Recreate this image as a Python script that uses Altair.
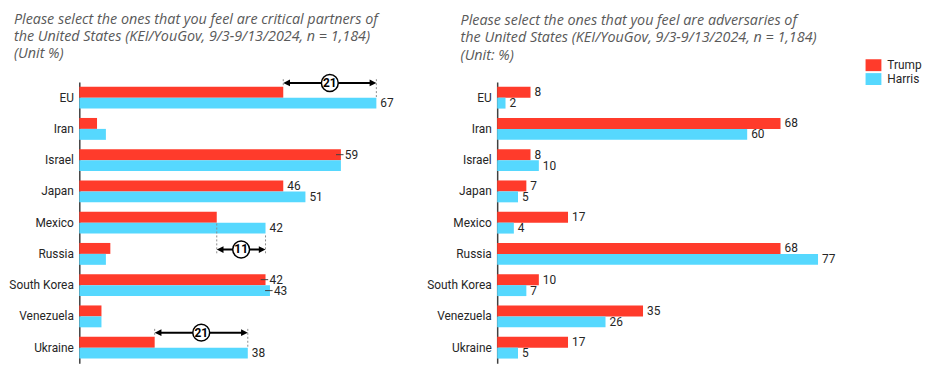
import altair as alt
import pandas as pd

countries = ["EU", "Iran", "Israel", "Japan", "Mexico", "Russia",
             "South Korea", "Venezuela", "Ukraine"]
series = ["Trump", "Harris"]

# Critical partners (%)
partner_trump = [46, 4, 59, 46, 31, 7, 42, 5, 17]
partner_harris = [67, 6, 59, 51, 42, 6, 43, 5, 38]
partner_label_trump = [False, False, True, True, False, False, True, False, False]
partner_label_harris = [True, False, False, True, True, False, True, False, True]
partner_leader_trump = [False, False, True, False, False, False, True, False, False]
partner_leader_harris = [False, False, False, False, False, False, True, False, False]

# Adversaries (%)
adv_trump = [8, 68, 8, 7, 17, 68, 10, 35, 17]
adv_harris = [2, 60, 10, 5, 4, 77, 7, 26, 5]

# Gap annotations (Harris - Trump) on the partners chart
gap_countries = ["EU", "Mexico", "Ukraine"]
gap_arrow_row = [0.03, 5.36, 8.02]   # arrow height, in category rows from the top

title_left = ["Please select the ones that you feel are critical partners of",
              "the United States (KEI/YouGov, 9/3-9/13/2024,  n = 1,184)",
              "(Unit %)"]
title_right = ["Please select the ones that you feel are adversaries of",
               "the United States (KEI/YouGov, 9/3-9/13/2024,  n = 1,184)",
               "(Unit: %)"]

RED = "#FF3B2B"
CYAN = "#56D8FE"
FONT = "Roboto"
TFONT = "Open Sans"
TXT = "#262626"


def long_df(trump, harris, lab_t, lab_h, lead_t, lead_h):
    rows = []
    for i, c in enumerate(countries):
        rows.append(dict(country=c, series="Trump", value=trump[i], label=lab_t[i], lead=lead_t[i]))
        rows.append(dict(country=c, series="Harris", value=harris[i], label=lab_h[i], lead=lead_h[i]))
    return pd.DataFrame(rows)


df_p = long_df(partner_trump, partner_harris, partner_label_trump,
               partner_label_harris, partner_leader_trump, partner_leader_harris)
n = len(countries)
df_a = long_df(adv_trump, adv_harris, [True] * n, [True] * n, [False] * n, [False] * n)

legend = alt.Legend(title=None, orient="none", legendX=794, legendY=-25,
                    symbolType="M-1,-0.75H1V0.75H-1Z", symbolSize=256,
                    symbolStrokeWidth=0, labelFontSize=12, labelColor=TXT,
                    labelFont=FONT, rowPadding=0, labelOffset=6)
color = alt.Color("series:N", scale=alt.Scale(domain=series, range=[RED, CYAN]),
                  legend=legend)
yoff = alt.YOffset("series:N", scale=alt.Scale(domain=series))

y_axis = alt.Axis(title=None, ticks=False, grid=False, domainColor="#404040",
                  domainWidth=1.5, labelPadding=6, labelFontSize=12,
                  labelColor=TXT, labelFont=FONT)


def y_nom():
    return alt.Y("country:N", sort=countries,
                 scale=alt.Scale(domain=countries, paddingInner=0.3, paddingOuter=0.15),
                 axis=y_axis)


def panel(df, xmax):
    xs = alt.Scale(domain=[0, xmax], nice=False, zero=True)
    base = alt.Chart(df)
    bars = base.mark_bar().encode(
        x=alt.X("value:Q", scale=xs, axis=None),
        y=y_nom(), yOffset=yoff, color=color)
    labels = base.transform_filter("datum.label").mark_text(
        align="left", baseline="middle", dx=4, fontSize=12, color=TXT, font=FONT
    ).encode(x=alt.X("value:Q", scale=xs, axis=None), y=y_nom(), yOffset=yoff,
             text="value:Q")
    leaders = base.transform_filter("datum.lead").transform_calculate(
        lo="datum.value - 1.1", hi="datum.value + 0.6"
    ).mark_rule(color="#404040", strokeWidth=1).encode(
        x=alt.X("lo:Q", scale=xs, axis=None), x2="hi:Q", y=y_nom(), yOffset=yoff)
    return [bars, leaders, labels], xs


def make_title(lines, dx, offset):
    return alt.TitleParams(text=lines, anchor="start", frame="group", dx=dx,
                           fontStyle="italic", fontWeight="normal", fontSize=14.5,
                           color="#595959", font=TFONT, lineHeight=17.5, offset=offset)


# ---- annotation data for the gap arrows ----
arrow_rows, dot_rows = [], []
for c, ay in zip(gap_countries, gap_arrow_row):
    i = countries.index(c)
    t = partner_trump[i]
    h = partner_harris[i]
    above = ay < i + 0.5
    start = ay - 0.12 if above else ay + 0.12
    t_edge = i + 0.15 if above else i + 0.5
    h_edge = i + 0.5 if above else i + 0.85
    arrow_rows.append(dict(lo=t, hi=h, mid=(t + h) / 2, ay=ay, diff=h - t))
    dot_rows.append(dict(x=t, y1=start, y2=t_edge))
    dot_rows.append(dict(x=h, y1=start, y2=h_edge))
df_arrow = pd.DataFrame(arrow_rows)
df_dot = pd.DataFrame(dot_rows)

p_layers, xs_p = panel(df_p, 67)
yq = alt.Scale(domain=[0, n], reverse=True, nice=False, zero=False)

dots = alt.Chart(df_dot).mark_rule(color="#8c8c8c", strokeDash=[2, 2], strokeWidth=1).encode(
    x=alt.X("x:Q", scale=xs_p, axis=None),
    y=alt.Y("y1:Q", scale=yq, axis=None), y2="y2:Q")
arrow_line = alt.Chart(df_arrow).transform_calculate(
    a="datum.lo + 1", b="datum.hi - 1"
).mark_rule(color="black", strokeWidth=2).encode(
    x=alt.X("a:Q", scale=xs_p, axis=None), x2="b:Q",
    y=alt.Y("ay:Q", scale=yq, axis=None))
head_l = alt.Chart(df_arrow).mark_point(
    shape="M0,0L1.7,-0.85L1.7,0.85Z", size=64, filled=True, color="black", opacity=1
).encode(x=alt.X("lo:Q", scale=xs_p, axis=None), y=alt.Y("ay:Q", scale=yq, axis=None))
head_r = alt.Chart(df_arrow).mark_point(
    shape="M0,0L-1.7,-0.85L-1.7,0.85Z", size=64, filled=True, color="black", opacity=1
).encode(x=alt.X("hi:Q", scale=xs_p, axis=None), y=alt.Y("ay:Q", scale=yq, axis=None))
circ = alt.Chart(df_arrow).mark_point(
    shape="circle", size=290, filled=True, fill="white", stroke="black",
    strokeWidth=1.5, opacity=1
).encode(x=alt.X("mid:Q", scale=xs_p, axis=None), y=alt.Y("ay:Q", scale=yq, axis=None))
circ_txt = alt.Chart(df_arrow).mark_text(
    fontSize=12, fontWeight="bold", color="black", font=FONT, baseline="middle", align="center"
).encode(x=alt.X("mid:Q", scale=xs_p, axis=None), y=alt.Y("ay:Q", scale=yq, axis=None),
         text="diff:Q")

annot = alt.layer(dots, arrow_line, head_l, head_r, circ, circ_txt)
left = alt.layer(alt.layer(*p_layers), annot).resolve_scale(y="independent").properties(
    width=300, height=284, title=make_title(title_left, -66, 10))

a_layers, _ = panel(df_a, 77)
right = alt.layer(*a_layers).properties(
    width=324, height=284, title=make_title(title_right, -37, 19))

chart = alt.hconcat(left, right, spacing=122, bounds="flush").properties(
    padding={"left": 0, "top": 1, "right": 0, "bottom": 0}
).configure_view(stroke=None)

chart.save("out.html", embed_options={"renderer": "svg", "actions": False})
